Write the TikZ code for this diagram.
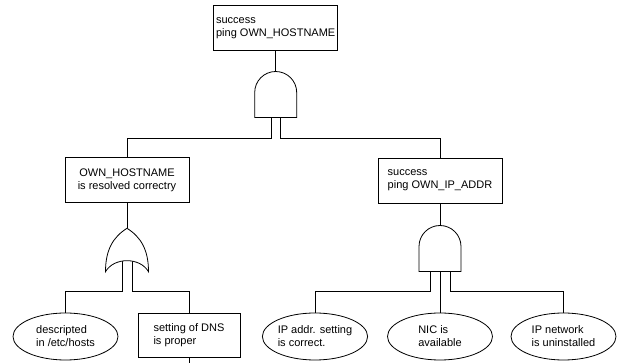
\documentclass[tikz,border=0pt]{standalone}
\usepackage{fontspec}
\setmainfont{Liberation Sans}
\usetikzlibrary{shapes.geometric}
\begin{document}
\begin{tikzpicture}[x=1pt,y=-1pt,
  every node/.style={font=\fontsize{11}{13}\selectfont, inner sep=0pt},
  evbox/.style={draw, line width=0.8pt, minimum width=124pt, minimum height=45pt, align=left},
  evell/.style={draw, ellipse, line width=0.8pt, minimum width=105pt, minimum height=47pt, align=left},
  conn/.style={draw, line width=0.8pt},
  gateshape/.style={draw, line width=0.8pt, fill=white}]
\useasboundingbox (0,0) rectangle (622,363);

% event boxes
\node[evbox] (top) at (275.7,27.8) {success\\ping OWN\_HOSTNAME};
\node[evbox, align=center] (lbox) at (127,180.3) {OWN\_HOSTNAME\\is resolved correctry};
\node[evbox] (rbox) at (440,180.5) {success\\ping OWN\_IP\_ADDR};
\node[evbox, minimum width=102pt, minimum height=44pt] (dns) at (189,335) {setting of DNS\\is proper};

% basic events
\node[evell] (e1) at (65.5,336.5) {descripted\\in /etc/hosts};
\node[evell] (e2) at (315,336.5) {IP addr. setting\\is correct.};
\node[evell] (e3) at (440,336.5) {NIC is\\available};
\node[evell] (e4) at (563.5,336.5) {IP network\\is uninstalled};

% gate coordinates
\coordinate (g1in) at (275.7,71.5);
\coordinate (g1a) at (271,117.5);
\coordinate (g1b) at (280.5,117.5);
\coordinate (orin) at (127,228.3);
\coordinate (ora) at (122,261.5);
\coordinate (orb) at (132,261.5);
\coordinate (g2in) at (440,225.5);
\coordinate (g2a) at (430,271.5);
\coordinate (g2b) at (440,271.5);
\coordinate (g2c) at (450,271.5);
\coordinate (dnstail) at (189,363);

% connectors
\draw[conn] (top) -- (g1in);
\draw[conn] (g1a) -- ++(0,20.5) -| (lbox);
\draw[conn] (g1b) -- ++(0,20.5) -| (rbox);
\draw[conn] (lbox) -- (orin);
\draw[conn] (ora) -- ++(0,30.2) -| (e1);
\draw[conn] (orb) -- ++(0,30.2) -| (dns);
\draw[conn] (dns) -- (dnstail);
\draw[conn] (rbox) -- (g2in);
\draw[conn] (g2a) -- ++(0,20.2) -| (e2);
\draw[conn] (g2b) -- (e3);
\draw[conn] (g2c) -- ++(0,20.2) -| (e4);

% AND gate 1
\draw[gateshape] (254.7,117.5) -- (254.7,92.5)
  .. controls (254.7,80.9) and (264.1,71.5) .. (275.7,71.5)
  .. controls (287.3,71.5) and (296.7,80.9) .. (296.7,92.5)
  -- (296.7,117.5) -- cycle;
% OR gate
\draw[gateshape] (105.5,271.7)
  .. controls (105.5,250) and (113,237) .. (127,228.3)
  .. controls (141,237) and (148.5,250) .. (148.5,271.7)
  .. controls (140,257) and (114,257) .. (105.5,271.7) -- cycle;
% AND gate 2
\draw[gateshape] (419,271.5) -- (419,246.5)
  .. controls (419,234.9) and (428.4,225.5) .. (440,225.5)
  .. controls (451.6,225.5) and (461,234.9) .. (461,246.5)
  -- (461,271.5) -- cycle;
\end{tikzpicture}
\end{document}
